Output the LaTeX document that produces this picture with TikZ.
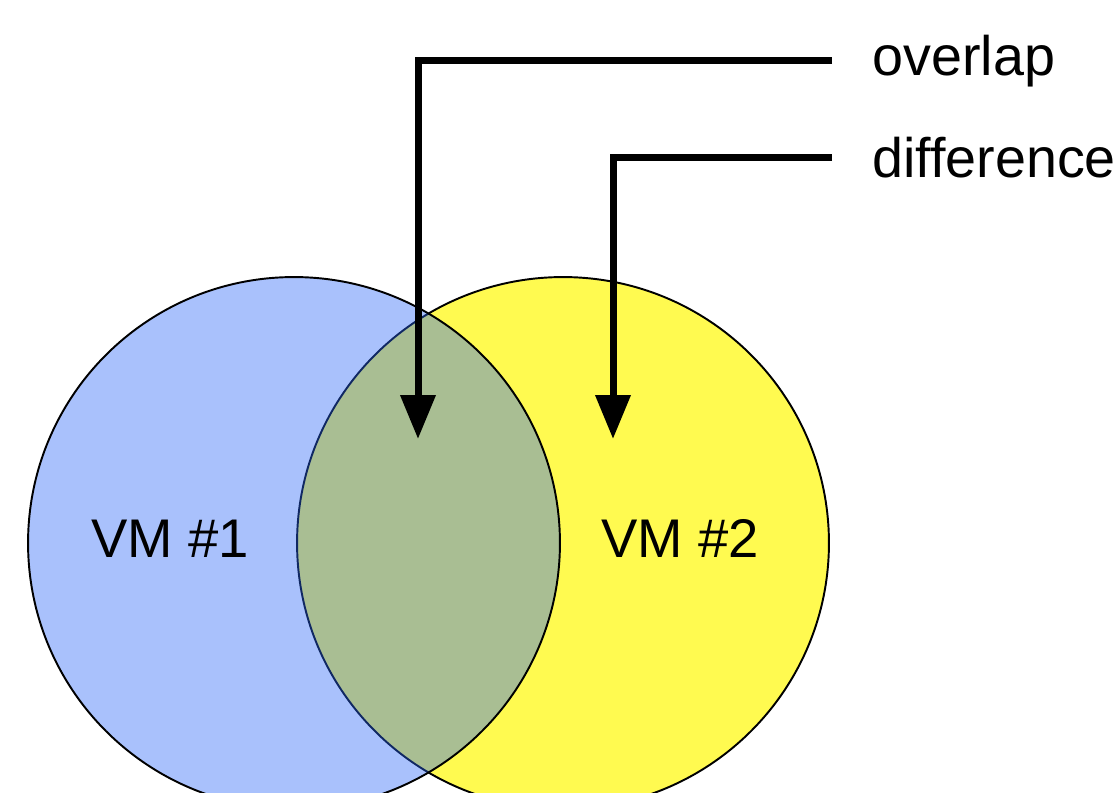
\documentclass[tikz,border=0pt]{standalone}
\usepackage{fontspec}
\setmainfont{Liberation Sans}
\usetikzlibrary{arrows.meta}
\definecolor{vmblue}{RGB}{40,100,248}
\definecolor{vmyellow}{RGB}{255,250,80}
\begin{document}
\begin{tikzpicture}[x=0.02cm,y=-0.02cm,
  vm/.style={circle, draw=black, line width=1.1pt, minimum size=10.64cm, inner sep=0pt},
  lbl/.style={font=\fontsize{31}{37}\selectfont, inner sep=0pt},
  legend/.style={font=\fontsize{31.7}{38}\selectfont, inner sep=0pt, anchor=base west},
  pointer/.style={line width=0.14cm, line join=miter,
    -{Triangle[length=0.88cm,width=0.68cm]}}]
  \useasboundingbox (0,0) rectangle (1119,792);
  \clip (0,0) rectangle (1119,792);
  % the two sets; VM #1 is translucent so the overlap shows through
  \node[vm, fill=vmyellow] (vm2) at (563,543) {};
  \node[vm, fill=vmblue, fill opacity=0.4] (vm1) at (294,543) {};
  \node[lbl, anchor=base] (vm1lbl) at (170,557) {VM \#1};
  \node[lbl, anchor=base] (vm2lbl) at (680,557) {VM \#2};
  % legend labels
  \node[legend] (ovl) at (872,75) {overlap};
  \node[legend] (dif) at (872,177) {difference};
  % pointers
  \coordinate (ovlstart) at (832,60);
  \coordinate (ovlbend) at (418,60);
  \coordinate (ovltip) at (418,439);
  \coordinate (difstart) at (832,157);
  \coordinate (difbend) at (613,157);
  \coordinate (diftip) at (613,439);
  \draw[pointer] (ovlstart) -- (ovlbend) -- (ovltip);
  \draw[pointer] (difstart) -- (difbend) -- (diftip);
\end{tikzpicture}
\end{document}
